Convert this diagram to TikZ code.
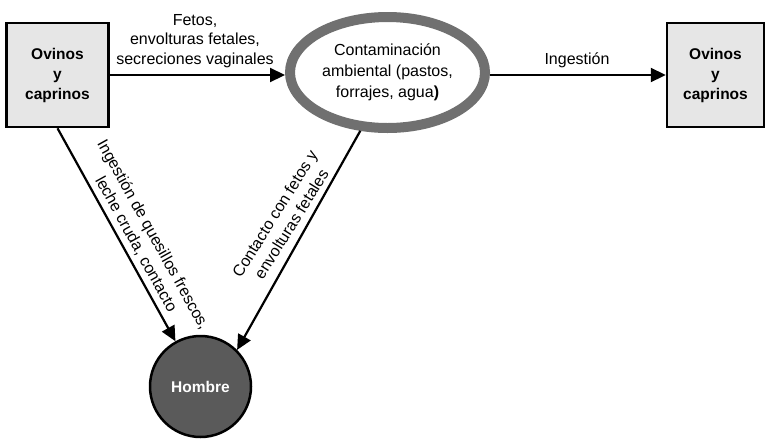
\documentclass[tikz,border=0pt]{standalone}
\usepackage{fontspec}
\setmainfont{Liberation Sans}
\usetikzlibrary{arrows.meta,shapes.geometric}
\definecolor{boxgray}{RGB}{230,230,230}
\definecolor{ringgray}{RGB}{112,112,112}
\definecolor{mangray}{RGB}{90,90,90}
\begin{document}
\begin{tikzpicture}[x=1pt,y=-1pt,
 box/.style={draw=black,line width=2.5pt,fill=boxgray,minimum width=102pt,minimum height=104pt,align=center,font=\fontsize{15.5}{20}\selectfont\bfseries,inner sep=0pt},
 amb/.style={ellipse,draw=ringgray,line width=10pt,fill=white,minimum width=195pt,minimum height=111pt,align=center,font=\fontsize{16}{21}\selectfont,inner sep=0pt},
 man/.style={circle,draw=black,line width=2.5pt,fill=mangray,minimum size=101pt,inner sep=0pt,text=white,font=\fontsize{15.5}{18}\selectfont\bfseries},
 conn/.style={line width=2.2pt,-{Triangle[length=15pt,width=14pt]}},
 lab/.style={align=center,font=\fontsize{16}{19.5}\selectfont,inner sep=0pt}]
\useasboundingbox (0,0) rectangle (765,440);
\node[box] (ov1) at (57.5,75) {Ovinos\\y\\caprinos};
\node[box,minimum width=97pt] (ov2) at (715.5,75) {Ovinos\\y\\caprinos};
\node[amb] (amb) at (387.5,72.5) {Contaminación\\ambiental (pastos,\\forrajes, agua\textbf{)}};
\node[man] (hombre) at (200.5,386.5) {Hombre};
\draw[conn] (ov1.east) -- (ov1.east -| amb.west);
\draw[conn] (ov2.west -| amb.east) -- (ov2.west);
\draw[conn] (ov1.south) -- (hombre);
\draw[conn] (amb.245) -- (hombre.45);
\node[lab] (l0) at (195,41) {Fetos,\\envolturas fetales,\\secreciones vaginales};
\node[lab] (l3) at (577,60) {Ingestión};
\node[lab,rotate=-61] (l1) at (144.5,239.5) {Ingestión de quesillos frescos,\\leche cruda, contacto};
\node[lab,rotate=58] (l2) at (283,219) {Contacto con fetos y\\envolturas fetales};
\end{tikzpicture}
\end{document}
